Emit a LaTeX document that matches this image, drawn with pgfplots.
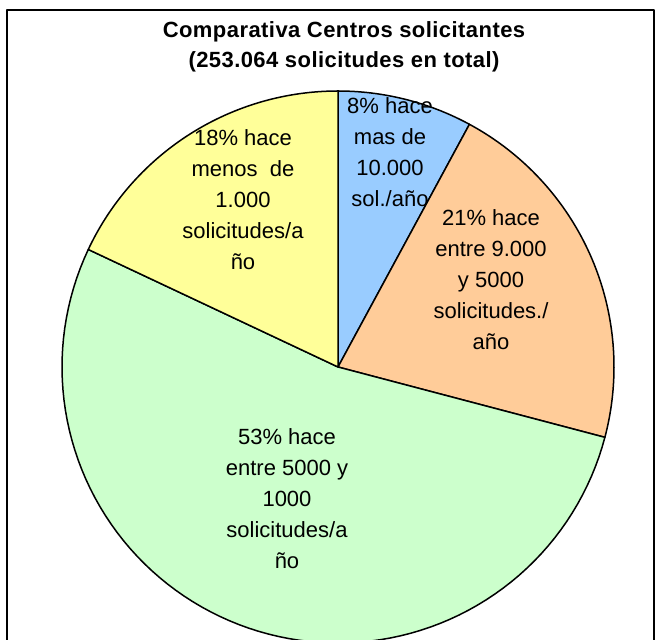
\documentclass[border=0pt]{standalone}
\usepackage{fontspec}
\setmainfont{Liberation Sans}
\newfontfamily\titlefont[LetterSpace=2]{Liberation Sans}
\usepackage{pgfplots}
\usepackage{pgfplotstable}
\pgfplotsset{compat=1.18}
\definecolor{pieblue}{HTML}{99CCFF}
\definecolor{pieorange}{HTML}{FFCC99}
\definecolor{piegreen}{HTML}{CCFFCC}
\definecolor{pieyellow}{HTML}{FFFF99}

% shares in percent, clockwise from 12 o'clock
\pgfplotstableread{
share color
7.9  pieblue
21.2 pieorange
52.9 piegreen
18.0 pieyellow
}\piedata

\begin{document}
\begin{tikzpicture}
\begin{axis}[
  scale only axis,
  width=329pt, height=320pt,
  xmin=0, xmax=658, ymin=0, ymax=640,
  hide axis,
  clip=true,
  line join=round,
]
\pgfmathsetmacro\cum{0}
\pgfplotsforeachungrouped \i in {0,...,3}{
  \pgfplotstablegetelem{\i}{share}\of\piedata
  \let\sh=\pgfplotsretval
  \pgfplotstablegetelem{\i}{color}\of\piedata
  \let\col=\pgfplotsretval
  \pgfmathsetmacro\aend{90-3.6*\cum}
  \pgfmathsetmacro\astart{90-3.6*(\cum+\sh)}
  \pgfmathsetmacro\cum{\cum+\sh}
  \edef\temp{\noexpand\addplot[draw=black,line width=0.75pt,fill=\col,no markers,domain=\astart:\aend,samples=90]
    ({338+276*cos(x)},{273+276*sin(x)}) -- (axis cs:338,273) -- cycle;}
  \temp
}
% chart frame
\draw[line width=0.75pt] (axis cs:7,0) -- (axis cs:7,630) -- (axis cs:654,630) -- (axis cs:654,0);

\node[align=center,font=\titlefont\bfseries\fontsize{11}{15}\selectfont] at (axis cs:344,593)
  {Comparativa Centros solicitantes\\(253.064 solicitudes en total)};
\begin{scope}[every node/.style={align=center,font=\fontsize{11}{15.5}\selectfont}]
\node at (axis cs:390,488) {8\% hace\\mas de\\10.000\\sol./año};
\node at (axis cs:491,360.5) {21\% hace\\entre 9.000\\y 5000\\solicitudes./\\año};
\node at (axis cs:287,141.5) {53\% hace\\entre 5000 y\\1000\\solicitudes/a\\ño};
\node at (axis cs:243,440.5) {18\% hace\\menos\ \ de\\1.000\\solicitudes/a\\ño};
\end{scope}
\end{axis}
\pgfresetboundingbox
\path (current axis.south west) rectangle (current axis.north east);
\end{tikzpicture}
\end{document}
